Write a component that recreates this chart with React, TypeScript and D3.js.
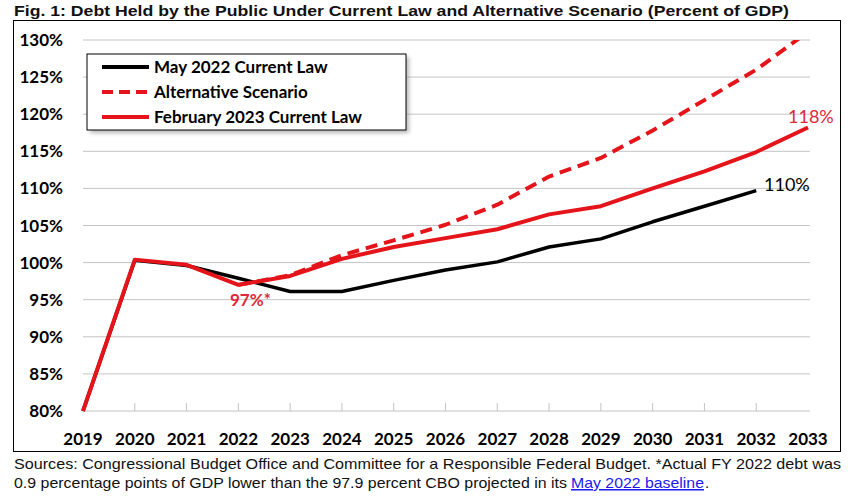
import React from "react";
import * as d3 from "d3";

const years = [2019, 2020, 2021, 2022, 2023, 2024, 2025, 2026, 2027, 2028, 2029, 2030, 2031, 2032, 2033];
const may2022: (number | null)[] = [80.0, 100.3, 99.6, 97.9, 96.1, 96.1, 97.6, 99.0, 100.1, 102.1, 103.2, 105.5, 107.6, 109.7, null];
const alternative: (number | null)[] = [null, null, null, 97.0, 98.3, 101.0, 103.0, 105.1, 107.8, 111.6, 114.1, 117.8, 121.9, 126.0, 131.1];
const feb2023: (number | null)[] = [80.0, 100.4, 99.7, 97.0, 98.2, 100.5, 102.1, 103.3, 104.5, 106.5, 107.6, 110.0, 112.3, 114.9, 118.2];
const yTicks = [80, 85, 90, 95, 100, 105, 110, 115, 120, 125, 130];
const legendItems = ["May 2022 Current Law", "Alternative Scenario", "February 2023 Current Law"];
const titleText = "Fig. 1: Debt Held by the Public Under Current Law and Alternative Scenario (Percent of GDP)";
const footer1 = "Sources: Congressional Budget Office and Committee for a Responsible Federal Budget. *Actual FY 2022 debt was";
const footer2a = "0.9 percentage points of GDP lower than the 97.9 percent CBO projected in its";
const footer2link = "May 2022 baseline";
const footer2b = ".";

const RED = "#e5141b";
const LABEL_RED = "#e0283a";
const FONT = "Lato, 'Open Sans', sans-serif";
const NARROW = "'Liberation Sans Narrow', 'Arial Narrow', 'Liberation Sans', Arial, sans-serif";

export default function App() {
  const x = d3.scaleLinear().domain([2019, 2033]).range([83, 808]);
  const y = d3.scaleLinear().domain([80, 130]).range([411, 40]);
  const line = d3
    .line<number | null>()
    .defined((d) => d !== null)
    .x((_, i) => x(years[i]))
    .y((d) => y(d as number));

  return (
    <svg width={848} height={498} style={{ position: "absolute", left: 0, top: 0, background: "#fff" }}>
      <defs>
        <clipPath id="plotclip">
          <rect x={70} y={y(130)} width={760} height={y(80) - y(130) + 5} />
        </clipPath>
        <filter id="shadow" x="-10%" y="-20%" width="130%" height="160%">
          <feGaussianBlur stdDeviation="2" />
        </filter>
      </defs>
      <rect x={0} y={0} width={848} height={498} fill="#fff" />
      <text x={14} y={16} fontFamily={NARROW} fontWeight="bold" fontSize={15.5} fill="#111" textLength={775} lengthAdjust="spacingAndGlyphs">
        {titleText}
      </text>
      <rect x={13.5} y={20.5} width={827} height={431} fill="none" stroke="#000" strokeWidth={1} />

      {yTicks.map((t) => (
        <g key={t}>
          <line x1={83} x2={810} y1={y(t)} y2={y(t)} stroke="#c4c4c4" strokeWidth={1} />
          <text x={63} y={y(t) + 6} textAnchor="end" fontFamily={FONT} fontWeight="bold" fontSize={17} fill="#000">
            {t}%
          </text>
        </g>
      ))}
      {years.map((yr) => (
        <g key={yr}>
          {yr > 2019 && yr < 2033 && (
            <line x1={x(yr)} x2={x(yr)} y1={y(80) - 8} y2={y(80)} stroke="#c4c4c4" strokeWidth={1} />
          )}
          <text x={x(yr)} y={445} textAnchor="middle" fontFamily={FONT} fontWeight="bold" fontSize={17} fill="#000">
            {yr}
          </text>
        </g>
      ))}

      <g clipPath="url(#plotclip)" fill="none" strokeLinejoin="round">
        <path d={line(may2022) || ""} stroke="#000" strokeWidth={3.5} />
        <path d={line(alternative) || ""} stroke={RED} strokeWidth={4} strokeDasharray="12,7" />
        <path d={line(feb2023) || ""} stroke={RED} strokeWidth={4} />
      </g>

      <text x={230} y={306} fontFamily={FONT} fontWeight="bold" fontSize={17} fill={LABEL_RED}>
        97%*
      </text>
      <text x={788} y={123} fontFamily={FONT} fontSize={18} fill={LABEL_RED}>
        118%
      </text>
      <text x={764} y={191} fontFamily={FONT} fontSize={18} fill="#000">
        110%
      </text>

      <rect x={90} y={57} width={319} height={76} fill="#888" opacity={0.6} filter="url(#shadow)" />
      <rect x={87} y={54} width={319} height={76} fill="#fff" stroke="#000" strokeWidth={1} />
      {legendItems.map((name, i) => {
        const cy = 67 + i * 25;
        return (
          <g key={name}>
            <line
              x1={102}
              x2={149}
              y1={cy}
              y2={cy}
              stroke={i === 0 ? "#000" : RED}
              strokeWidth={4}
              strokeDasharray={i === 1 ? "11,6" : undefined}
            />
            <text x={154} y={cy + 6} fontFamily={FONT} fontWeight="bold" fontSize={17} fill="#000">
              {name}
            </text>
          </g>
        );
      })}

      <text x={14} y={469} fontFamily={NARROW} fontSize={15} fill="#111" textLength={827} lengthAdjust="spacingAndGlyphs">
        {footer1}
      </text>
      <text x={14} y={488} fontFamily={NARROW} fontSize={15} fill="#111" textLength={553} lengthAdjust="spacingAndGlyphs">
        {footer2a}
      </text>
      <text x={571} y={488} fontFamily={NARROW} fontSize={15} fill="#1a1aee" textDecoration="underline" textLength={133} lengthAdjust="spacingAndGlyphs">
        {footer2link}
      </text>
      <text x={705} y={488} fontFamily={NARROW} fontSize={15} fill="#111">
        {footer2b}
      </text>
    </svg>
  );
}
